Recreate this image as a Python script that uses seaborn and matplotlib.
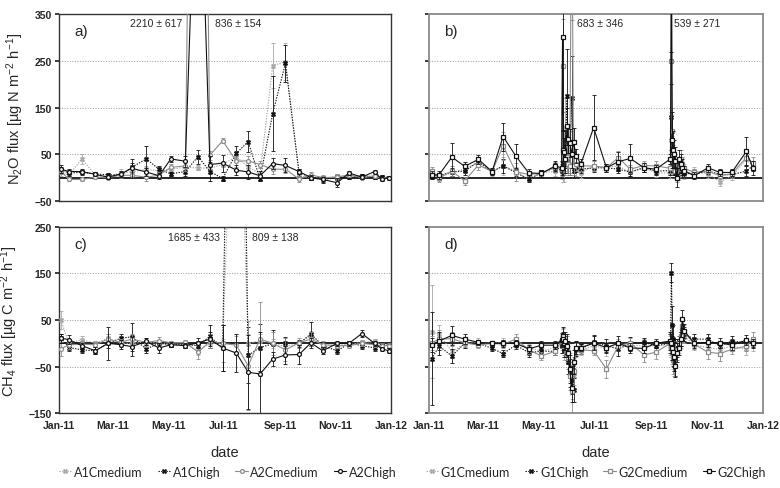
import numpy as np
import pandas as pd
import matplotlib
matplotlib.use('Agg')
import matplotlib.pyplot as plt
import matplotlib.dates as mdates
import seaborn as sns

# sampling days (day of year 2011)
a_days = [3, 12, 26, 41, 55, 69, 81, 97, 111, 124, 140, 154, 167, 181, 196, 209,
          222, 236, 250, 265, 278, 291, 307, 320, 334, 348, 356, 364]
g_days = [4, 12, 26, 40, 55, 70, 82, 96, 110, 124, 139,
          146, 147, 148, 149, 150, 152, 153, 155, 157, 159, 162,
          167, 181, 195, 208, 221, 236, 249,
          265, 266, 267, 268, 269, 270, 272, 274, 276, 278, 280,
          291, 306, 319, 332, 348, 355]

# N2O flux, A sites
n2o_A1Cmedium = [12, 5, 40, 5, 2, 10, 12, 18, 14, 18, 22, 21, 20, 28, 45, 23, 8, 240, 248, 3, 0, -2, 3, 4, 4, 2, 0, 0]
n2o_A1Chigh = [17, 10, 11, 8, 6, 5, 22, 40, 18, 8, 13, 45, 13, -2, 52, 77, -3, 137, 245, 11, 0, -4, 0, 1, 3, 2, 2, 0]
n2o_A2Cmedium = [14, -4, -4, 1, 0, 5, 5, 1, 5, 22, 25, 2210, 48, 79, 35, 36, 28, 18, 18, -3, 6, 0, 1, 6, 0, 4, -2, 0]
n2o_A2Chigh = [18, 13, 13, 7, 1, 8, 20, 12, 4, 40, 35, 836, 28, 31, 16, 12, 4, 30, 26, 13, 0, -4, -11, 10, 1, 13, -4, 0]
n2o_A1Cmedium_se = [8, 5, 10, 4, 4, 8, 8, 6, 6, 6, 6, 5, 8, 6, 10, 8, 6, 48, 40, 6, 6, 5, 5, 4, 4, 4, 4, 3]
n2o_A1Chigh_se = [6, 6, 6, 4, 4, 5, 10, 28, 6, 5, 10, 15, 20, 5, 15, 22, 5, 80, 40, 8, 5, 8, 6, 5, 5, 4, 4, 3]
n2o_A2Cmedium_se = [6, 4, 4, 3, 3, 6, 6, 8, 6, 8, 10, 617, 10, 5, 12, 10, 8, 10, 8, 6, 5, 5, 6, 5, 4, 4, 4, 3]
n2o_A2Chigh_se = [8, 6, 6, 4, 4, 6, 20, 8, 6, 6, 12, 154, 18, 18, 10, 15, 10, 12, 15, 6, 5, 6, 10, 5, 4, 4, 4, 3]

# CH4 flux, A sites
ch4_A1Cmedium = [50, 0, 8, 0, 11, 0, 0, 3, 0, -2, -2, -16, 0, 0, 809, -1, 6, 0, -7, 0, 16, -5, -3, -3, 2, 4, -3, -5]
ch4_A1Chigh = [11, -9, -14, -16, 0, 11, 14, -12, 0, -3, -3, -5, 15, -10, 1685, -26, -9, -1, 1, 0, 20, -5, -16, 0, -5, -10, -3, -5]
ch4_A2Cmedium = [-12, -3, -2, -3, 9, 2, 9, 2, 6, 1, 2, -19, 4, 0, -4, -48, 9, 0, -14, 1, 9, -3, -5, -5, 0, -3, -5, -5]
ch4_A2Chigh = [11, 8, -5, -16, 0, -3, -7, 4, -10, -3, -5, 1, 9, -10, -21, -62, -66, -34, -25, -24, 1, -16, 0, 0, 21, 0, -12, -16]
ch4_A1Cmedium_se = [20, 8, 8, 5, 8, 8, 8, 8, 6, 5, 8, 10, 10, 10, 138, 20, 15, 10, 8, 6, 10, 6, 6, 5, 5, 5, 5, 5]
ch4_A1Chigh_se = [10, 8, 6, 8, 10, 10, 30, 8, 8, 5, 8, 10, 25, 50, 433, 60, 50, 30, 12, 8, 25, 6, 6, 5, 8, 6, 5, 5]
ch4_A2Cmedium_se = [15, 10, 6, 5, 10, 8, 10, 10, 8, 5, 6, 15, 15, 40, 20, 95, 80, 25, 25, 10, 15, 8, 6, 6, 6, 5, 5, 5]
ch4_A2Chigh_se = [10, 10, 6, 8, 35, 10, 20, 8, 10, 5, 6, 10, 15, 50, 40, 80, 90, 15, 20, 20, 10, 8, 6, 5, 8, 5, 5, 5]

# N2O flux, G sites
n2o_G1Cmedium = [11, 0, 11, 19, 32, 12, 25, 14, -4, 10, 14,
                 12, 35, 30, 50, 90, 40, 25, 30, 60, 15, 18,
                 10, 25, 22, 25, 11, 22, 10,
                 10, 80, 50, 40, 25, 20, 10, 5, 20, 10, 5,
                 14, 8, -9, 3, 39, 24]
n2o_G1Chigh = [4, 4, 12, 14, 34, 13, 25, 11, -4, 11, 21,
               15, 40, 20, 30, 60, 175, 40, 25, 170, 15, 22,
               18, 21, 21, 18, 12, 21, 14,
               15, 130, 60, 30, 20, 10, 5, 20, 30, 15, 10,
               7, 14, 7, 6, 14, 25]
n2o_G2Cmedium = [14, -1, 14, -7, 27, 13, 68, 12, 7, 9, 23,
                 18, 240, 53, 40, 35, 45, 30, 25, 683, 25, 30,
                 25, 25, 21, 43, 18, 26, 25,
                 20, 250, 100, 40, 30, 15, 0, 25, 40, 30, 20,
                 11, 14, 4, 8, 43, 32]
n2o_G2Chigh = [6, 6, 44, 24, 39, 13, 88, 46, 10, 9, 25,
               21, 302, 60, 55, 40, 110, 82, 75, 50, 76, 46,
               29, 107, 21, 34, 41, 21, 18,
               40, 539, 80, 60, 50, 35, 0, 40, 30, 20, 15,
               4, 21, 11, 11, 56, 21]
n2o_G1Cmedium_se = [8, 8, 8, 8, 10, 8, 20, 8, 6, 6, 10,
                    15, 30, 40, 60, 80, 30, 20, 20, 40, 15, 15,
                    10, 10, 8, 10, 8, 10, 8,
                    10, 60, 40, 30, 20, 15, 10, 10, 15, 10, 8,
                    8, 8, 10, 8, 15, 10]
n2o_G1Chigh_se = [6, 6, 8, 8, 8, 6, 15, 8, 6, 6, 10,
                  15, 20, 20, 20, 40, 100, 30, 20, 90, 15, 10,
                  8, 8, 8, 8, 8, 8, 8,
                  10, 70, 40, 20, 15, 10, 10, 10, 15, 10, 8,
                  6, 6, 6, 6, 10, 10]
n2o_G2Cmedium_se = [8, 8, 10, 8, 10, 8, 30, 20, 6, 6, 10,
                    15, 100, 40, 30, 30, 30, 20, 20, 346, 20, 15,
                    10, 10, 8, 15, 8, 10, 10,
                    10, 120, 50, 30, 20, 15, 10, 10, 20, 15, 10,
                    8, 8, 8, 8, 15, 12]
n2o_G2Chigh_se = [8, 8, 30, 10, 10, 8, 30, 25, 8, 8, 10,
                  15, 200, 40, 30, 30, 40, 30, 30, 30, 30, 15,
                  10, 70, 8, 20, 30, 10, 10,
                  10, 271, 60, 40, 30, 30, 20, 20, 20, 20, 10,
                  8, 8, 8, 8, 30, 15]

# CH4 flux, G sites
ch4_G1Cmedium = [25, 19, -17, -2, 3, 0, 2, -2, -9, -17, -9,
                 0, 10, 0, -15, -10, -20, -30, -50, -90, -70, -15,
                 -16, -5, -12, -1, -5, -5, -6,
                 -5, 20, -10, -25, -30, -20, -10, -5, 5, 30, 15,
                 -4, -9, -13, -6, -13, -2]
ch4_G1Chigh = [-33, -6, -27, 0, 0, -11, -22, -4, -20, -17, -17,
               -5, 0, 5, -10, -5, -15, -40, -63, -78, -100, -12,
               -12, 2, -5, -12, -1, 2, -5,
               0, 152, 40, 10, -20, -30, -10, 0, 10, 27, 20,
               9, 9, -6, 5, 1, 3]
ch4_G2Cmedium = [1, 9, 10, 1, -4, 0, -2, 9, -14, -27, -17,
                 5, 12, 8, -5, 0, -10, -30, -70, -103, -60, -10,
                 -14, -16, -55, -5, 1, -25, -19,
                 0, -10, -20, -35, -40, -25, -15, 0, 15, 37, 25,
                 -2, -19, -22, -13, -6, 9]
ch4_G2Chigh = [-4, 5, 17, 9, 2, 0, 0, 0, -12, -4, -4,
               8, 16, 10, 0, 5, -5, -20, -56, -96, -40, -9,
               -9, 0, -9, 0, -10, -11, 0,
               5, 0, -10, -19, -30, -48, -20, -10, 10, 52, 27,
               0, 2, 1, -4, 7, 0]
ch4_G1Cmedium_se = [100, 20, 15, 8, 8, 6, 10, 8, 8, 8, 8,
                    15, 20, 15, 20, 20, 20, 25, 30, 30, 25, 15,
                    10, 10, 15, 10, 10, 15, 10,
                    20, 30, 25, 30, 30, 25, 15, 15, 15, 20, 15,
                    10, 15, 12, 10, 12, 15]
ch4_G1Chigh_se = [100, 20, 15, 10, 6, 6, 8, 8, 10, 8, 8,
                  15, 20, 15, 20, 20, 20, 25, 30, 30, 25, 15,
                  10, 15, 15, 15, 15, 10, 10,
                  20, 20, 40, 30, 30, 40, 20, 15, 15, 15, 15,
                  10, 10, 12, 10, 10, 10]
ch4_G2Cmedium_se = [15, 20, 15, 8, 6, 6, 8, 10, 8, 8, 8,
                    15, 20, 15, 20, 20, 25, 25, 30, 45, 30, 15,
                    10, 10, 20, 10, 10, 15, 15,
                    20, 20, 25, 30, 30, 25, 20, 15, 15, 20, 15,
                    10, 15, 15, 10, 10, 15]
ch4_G2Chigh_se = [15, 20, 20, 10, 6, 6, 8, 8, 8, 8, 8,
                  15, 20, 15, 15, 20, 25, 25, 30, 30, 25, 15,
                  8, 15, 10, 15, 10, 10, 10,
                  20, 20, 25, 30, 30, 25, 20, 15, 15, 20, 15,
                  10, 10, 10, 10, 10, 10]

sns.set_theme(style='white')
plt.rcParams['font.family'] = ['Liberation Sans', 'DejaVu Sans']
plt.rcParams['mathtext.fontset'] = 'custom'
plt.rcParams['mathtext.rm'] = 'Liberation Sans'
plt.rcParams['mathtext.it'] = 'Liberation Sans:italic'

TICK_FONT = dict(family=['Liberation Sans Narrow', 'Liberation Sans'], weight='bold', size=7.5)


def to_dates(days):
    return pd.Timestamp('2011-01-01') + pd.to_timedelta(np.array(days) - 1, unit='D')


# style per series: colour, linestyle, filled marker
styles = {
    'medium1': ('#a8a8a8', (0, (1.2, 1.2)), True),
    'high1': ('#111111', (0, (1.2, 1.2)), True),
    'medium2': ('#8c8c8c', '-', False),
    'high2': ('#111111', '-', False),
}


def draw_panel(ax, days, series):
    dates = to_dates(days)
    handles = []
    for i, (name, key, vals, errs, mk) in enumerate(series):
        color, ls, filled = styles[key]
        sns.lineplot(x=dates, y=vals, ax=ax, color=color, linestyle=ls, lw=0.8,
                     marker=mk, markersize=2.8 if mk != 'X' else 3.4,
                     markeredgecolor=color, markeredgewidth=0.9 if not filled else 0.3,
                     markerfacecolor=color if filled else 'white',
                     errorbar=None, legend=False, zorder=3 + i)
        line = ax.lines[-1]
        line.set_label(name)
        handles.append(line)
        ax.errorbar(dates, vals, yerr=errs, fmt='none', ecolor=color,
                    elinewidth=0.6, capsize=1.3, capthick=0.6, zorder=2 + i)
    ax.axhline(0, color='black', lw=1.2, zorder=1)
    ax.set_xlim(pd.Timestamp('2011-01-01'), pd.Timestamp('2012-01-01'))
    ax.xaxis.set_major_locator(mdates.MonthLocator(bymonth=[1, 3, 5, 7, 9, 11]))
    ax.xaxis.set_major_formatter(mdates.DateFormatter('%b-%y'))
    ax.grid(axis='y', linestyle=':', color='#999999', lw=0.7)
    ax.tick_params(axis='x', length=0, pad=5)
    ax.tick_params(axis='y', length=3, direction='out', left=True, pad=2)
    ax.set_xlabel('')
    ax.set_ylabel('')
    return handles


fig = plt.figure(figsize=(7.8, 4.89), dpi=100)
ax_a = fig.add_axes([0.0756, 0.587, 0.4256, 0.382])
ax_b = fig.add_axes([0.550, 0.587, 0.428, 0.382])
ax_c = fig.add_axes([0.0756, 0.153, 0.4256, 0.381])
ax_d = fig.add_axes([0.550, 0.153, 0.428, 0.381])

draw_panel(ax_a, a_days, [
    ('A1Cmedium', 'medium1', n2o_A1Cmedium, n2o_A1Cmedium_se, 'X'),
    ('A1Chigh', 'high1', n2o_A1Chigh, n2o_A1Chigh_se, 'X'),
    ('A2Cmedium', 'medium2', n2o_A2Cmedium, n2o_A2Cmedium_se, 'o'),
    ('A2Chigh', 'high2', n2o_A2Chigh, n2o_A2Chigh_se, 'o'),
])
draw_panel(ax_b, g_days, [
    ('G1Cmedium', 'medium1', n2o_G1Cmedium, n2o_G1Cmedium_se, 'X'),
    ('G1Chigh', 'high1', n2o_G1Chigh, n2o_G1Chigh_se, 'X'),
    ('G2Cmedium', 'medium2', n2o_G2Cmedium, n2o_G2Cmedium_se, 's'),
    ('G2Chigh', 'high2', n2o_G2Chigh, n2o_G2Chigh_se, 's'),
])
hC = draw_panel(ax_c, a_days, [
    ('A1Cmedium', 'medium1', ch4_A1Cmedium, ch4_A1Cmedium_se, 'X'),
    ('A1Chigh', 'high1', ch4_A1Chigh, ch4_A1Chigh_se, 'X'),
    ('A2Cmedium', 'medium2', ch4_A2Cmedium, ch4_A2Cmedium_se, 'o'),
    ('A2Chigh', 'high2', ch4_A2Chigh, ch4_A2Chigh_se, 'o'),
])
hD = draw_panel(ax_d, g_days, [
    ('G1Cmedium', 'medium1', ch4_G1Cmedium, ch4_G1Cmedium_se, 'X'),
    ('G1Chigh', 'high1', ch4_G1Chigh, ch4_G1Chigh_se, 'X'),
    ('G2Cmedium', 'medium2', ch4_G2Cmedium, ch4_G2Cmedium_se, 's'),
    ('G2Chigh', 'high2', ch4_G2Chigh, ch4_G2Chigh_se, 's'),
])

for ax in (ax_a, ax_b):
    ax.set_ylim(-50, 350)
    ax.set_yticks([-50, 50, 150, 250, 350])
    ax.set_xticklabels([])
for ax in (ax_c, ax_d):
    ax.set_ylim(-150, 250)
    ax.set_yticks([-150, -50, 50, 150, 250])
    for lab in ax.get_xticklabels():
        lab.set_fontproperties(TICK_FONT)
    ax.set_xlabel('date', fontsize=10.5, labelpad=11)
for ax in (ax_b, ax_d):
    ax.set_yticklabels([])
    for sp in ax.spines.values():
        sp.set_color('#8a8a8a')
        sp.set_linewidth(1.3)
for ax in (ax_a, ax_c):
    for lab in ax.get_yticklabels():
        lab.set_fontproperties(TICK_FONT)
    for sp in ax.spines.values():
        sp.set_color('#333333')
        sp.set_linewidth(1.0)

ax_a.set_ylabel(r'N$_2$O flux [µg N m$^{-2}$ h$^{-1}$]', fontsize=10.5, labelpad=6)
ax_c.set_ylabel(r'CH$_4$ flux [µg C m$^{-2}$ h$^{-1}$]', fontsize=10.5, labelpad=6)

for ax, lab in zip((ax_a, ax_b, ax_c, ax_d), ('a)', 'b)', 'c)', 'd)')):
    ax.text(0.045, 0.91, lab, transform=ax.transAxes, fontsize=11, va='center')

note = dict(fontsize=7.5, va='center')
ax_a.text(pd.Timestamp('2011-05-16'), 332, '2210 ± 617', ha='right', **note)
ax_a.text(pd.Timestamp('2011-06-22'), 332, '836 ± 154', ha='left', **note)
ax_b.text(pd.Timestamp('2011-06-12'), 332, '683 ± 346', ha='left', **note)
ax_b.text(pd.Timestamp('2011-09-26'), 332, '539 ± 271', ha='left', **note)
ax_c.text(pd.Timestamp('2011-06-27'), 228, '1685 ± 433', ha='right', **note)
ax_c.text(pd.Timestamp('2011-08-01'), 228, '809 ± 138', ha='left', **note)

leg_kw = dict(loc='center', ncol=4, frameon=False, handlelength=1.0, handletextpad=0.2,
              columnspacing=1.2, prop={'family': ['Lato', 'DejaVu Sans'], 'size': 9})
fig.legend(handles=hC, labels=[h.get_label() for h in hC], bbox_to_anchor=(0.292, 0.033), **leg_kw)
fig.legend(handles=hD, labels=[h.get_label() for h in hD], bbox_to_anchor=(0.764, 0.033), **leg_kw)

fig.savefig('out.png', dpi=100)
